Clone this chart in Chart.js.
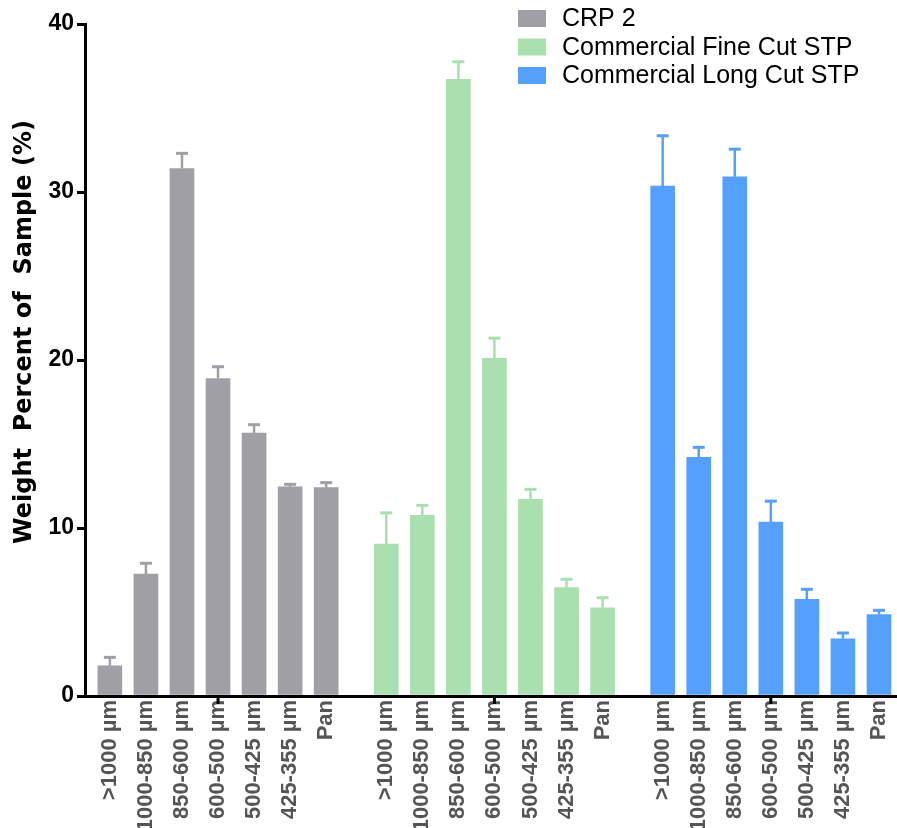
<!DOCTYPE html>
<html>
<head>
<meta charset="utf-8">
<script src="https://cdn.jsdelivr.net/npm/chart.js@4"></script>
<style>
  html, body { margin: 0; padding: 0; background: #fff; }
  #wrap { width: 897px; height: 828px; position: relative; }
</style>
</head>
<body>
<div id="wrap"><canvas id="myChart"></canvas></div>
<script>
// sieve fractions, one bar per fraction in each group
const sizeClasses = ['>1000 µm', '1000-850 µm', '850-600 µm', '600-500 µm', '500-425 µm', '425-355 µm', 'Pan']
const seriesNames = ['CRP 2', 'Commercial Fine Cut STP', 'Commercial Long Cut STP']
const crp2 = [1.8, 7.25, 31.4, 18.9, 15.65, 12.45, 12.4]
const crp2Err = [0.5, 0.65, 0.9, 0.7, 0.5, 0.15, 0.3]
const fineCut = [9.05, 10.75, 36.7, 20.1, 11.7, 6.45, 5.25]
const fineCutErr = [1.85, 0.6, 1.05, 1.2, 0.6, 0.5, 0.6]
const longCut = [30.35, 14.2, 30.9, 10.35, 5.75, 3.4, 4.85]
const longCutErr = [3.0, 0.6, 1.65, 1.25, 0.6, 0.35, 0.25]
const yTicks = [0, 10, 20, 30, 40]
const yTitle = 'Weight  Percent of  Sample (%)'

const colors = ['#a09fa5', '#aadfb0', '#55a0fc']
const groupStep = 7 + 2 / 3 // gap between groups, in bar slots

const allValues = [crp2, fineCut, longCut]
const allErrors = [crp2Err, fineCutErr, longCutErr]

const xOf = (g, i) => g * groupStep + i
const tickPositions = []
allValues.forEach((v, g) => v.forEach((_, i) => tickPositions.push(xOf(g, i))))

// upper error bars, group tick marks, legend and y title
const extras = {
  id: 'extras',
  afterDatasetsDraw (chart) {
    const ctx = chart.ctx
    const y = chart.scales.y
    ctx.save()
    chart.data.datasets.forEach((ds, d) => {
      const meta = chart.getDatasetMeta(d)
      meta.data.forEach((bar, i) => {
        const top = y.getPixelForValue(allValues[d][i] + allErrors[d][i])
        ctx.strokeStyle = colors[d]
        ctx.lineWidth = 2.5
        ctx.beginPath()
        ctx.moveTo(bar.x, bar.y)
        ctx.lineTo(bar.x, top)
        ctx.stroke()
        ctx.lineWidth = 3
        ctx.beginPath()
        ctx.moveTo(bar.x - 6, top)
        ctx.lineTo(bar.x + 6, top)
        ctx.stroke()
      })
    })
    const x = chart.scales.x
    const bottom = chart.chartArea.bottom
    ctx.strokeStyle = '#000'
    ctx.lineWidth = 3
    allValues.forEach((v, g) => {
      const px = x.getPixelForValue(xOf(g, 3))
      ctx.beginPath()
      ctx.moveTo(px, bottom)
      ctx.lineTo(px, bottom + 8)
      ctx.stroke()
    })
    ctx.restore()
  },
  afterDraw (chart) {
    const ctx = chart.ctx
    ctx.save()
    ctx.font = '25px "Liberation Sans", Arial, sans-serif'
    ctx.textBaseline = 'middle'
    seriesNames.forEach((name, d) => {
      const cy = 18.5 + d * 28.5
      ctx.fillStyle = colors[d]
      ctx.fillRect(518, cy - 8.5, 28, 17)
      ctx.fillStyle = '#000'
      ctx.fillText(name, 562, cy + 1)
    })
    // axis title
    ctx.translate(25, 332)
    ctx.rotate(-Math.PI / 2)
    ctx.textAlign = 'center'
    ctx.font = 'bold 24px "DejaVu Sans", sans-serif'
    ctx.fillText(yTitle, 0, 0)
    ctx.restore()
  }
}

const ctx = document.getElementById('myChart').getContext('2d')
const myChart = new Chart(ctx, {
  type: 'bar',
  data: {
    datasets: seriesNames.map((name, g) => ({
      label: name,
      data: allValues[g].map((v, i) => ({ x: xOf(g, i), y: v })),
      backgroundColor: colors[g],
      borderWidth: 0,
      barThickness: 24,
      grouped: false
    }))
  },
  options: {
    responsive: true,
    maintainAspectRatio: false,
    animation: false,
    layout: { padding: { top: 24, right: 0, left: 0, bottom: 0 } },
    plugins: {
      legend: { display: false },
      tooltip: { enabled: false }
    },
    scales: {
      x: {
        type: 'linear',
        offset: false,
        min: -0.69,
        max: 2 * groupStep + 6.5,
        afterBuildTicks: (scale) => {
          scale.ticks = tickPositions.map(v => ({ value: v }))
        },
        afterFit: (scale) => {
          scale.height = 132
          scale.paddingLeft = 0
          scale.paddingRight = 0
        },
        border: { color: '#000', width: 3 },
        grid: { display: false, drawTicks: false },
        ticks: {
          autoSkip: false,
          minRotation: 90,
          maxRotation: 90,
          padding: 4,
          color: '#555',
          font: { family: '"Liberation Sans", Arial, sans-serif', size: 22, weight: 'bold' },
          callback: (value, index) => sizeClasses[index % sizeClasses.length]
        }
      },
      y: {
        min: 0,
        max: 40,
        afterBuildTicks: (scale) => {
          scale.ticks = yTicks.map(v => ({ value: v }))
        },
        afterFit: (scale) => { scale.width = 85 },
        border: { color: '#000', width: 3 },
        grid: { drawOnChartArea: false, color: '#000', lineWidth: 3, tickLength: 8 },
        ticks: {
          padding: 3,
          color: '#000',
          font: { family: '"Liberation Sans", Arial, sans-serif', size: 23, weight: 'bold' }
        }
      }
    }
  },
  plugins: [extras]
})
</script>
</body>
</html>
